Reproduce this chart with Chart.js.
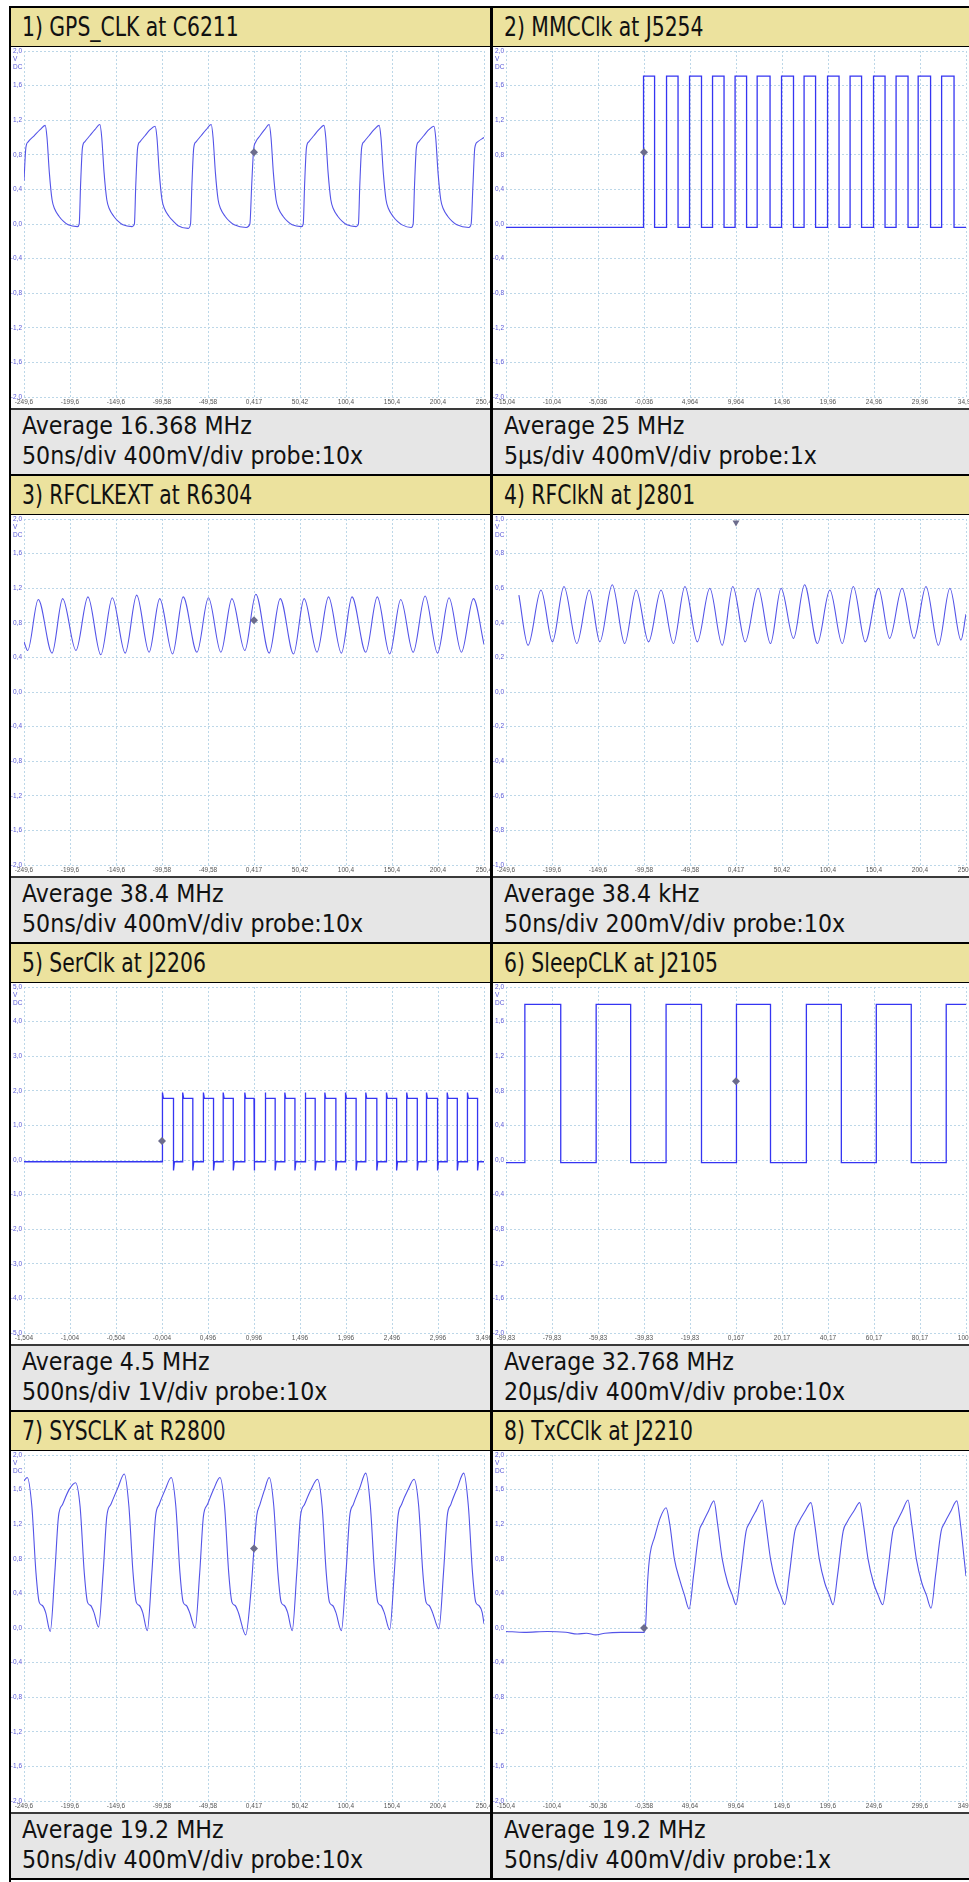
<!DOCTYPE html>
<html>
<head>
<meta charset="utf-8">
<title>Clock measurements</title>
<script src="https://cdn.jsdelivr.net/npm/chart.js@4.4.1/dist/chart.umd.min.js"></script>
<style>
  html, body { margin: 0; padding: 0; background: #fff; overflow: hidden; }
  body { width: 969px; height: 1882px; position: relative; font-family: "Liberation Sans Narrow", "DejaVu Sans Condensed", sans-serif; }
  #frame { position: absolute; left: 9px; top: 6px; width: 980px; height: 1874px; border-top: 2px solid #000; border-left: 2px solid #000; }
  .panel { position: absolute; width: 479px; height: 468px; }
  .panel.left { border-right: 3px solid #000; }
  .title { height: 38px; line-height: 38px; background: #ece29e; border-bottom: 1px solid #000; font-size: 26px; padding-left: 11px; color: #111; white-space: nowrap; }
  .title span { display: inline-block; transform: scaleX(0.87); transform-origin: left center; }
  .plot { height: 361px; }
  .plot canvas { display: block; }
  .foot { height: 63px; padding-top: 1px; background: #e6e6e6; border-top: 2px solid #3a3a3a; border-bottom: 2px solid #000; font-size: 25px; line-height: 30px; padding-left: 11px; color: #111; white-space: nowrap; }
  .foot span { display: inline-block; transform: scaleX(0.985); transform-origin: left center; }
</style>
</head>
<body>
<div id="frame"></div>
<script>
// Panel texts
const titles = ['1) GPS_CLK at C6211', '2) MMCClk at J5254', '3) RFCLKEXT at R6304', '4) RFClkN at J2801',
                '5) SerClk at J2206', '6) SleepCLK at J2105', '7) SYSCLK at R2800', '8) TxCClk at J2210'];
const averages = ['Average 16.368 MHz', 'Average 25 MHz', 'Average 38.4 MHz', 'Average 38.4 kHz',
                  'Average 4.5 MHz', 'Average 32.768 MHz', 'Average 19.2 MHz', 'Average 19.2 MHz'];
const settings = ['50ns/div 400mV/div probe:10x', '5µs/div 400mV/div probe:1x', '50ns/div 400mV/div probe:10x',
                  '50ns/div 200mV/div probe:10x', '500ns/div 1V/div probe:10x', '20µs/div 400mV/div probe:10x',
                  '50ns/div 400mV/div probe:10x', '50ns/div 400mV/div probe:1x'];

// Tick labels (x in divisions 0..10, y bottom to top)
const xLabels50ns = ['-249,6', '-199,6', '-149,6', '-99,58', '-49,58', '0,417', '50,42', '100,4', '150,4', '200,4', '250,4'];
const xLabelsMmc = ['-15,04', '-10,04', '-5,036', '-0,036', '4,964', '9,964', '14,96', '19,96', '24,96', '29,96', '34,96'];
const xLabelsSer = ['-1,504', '-1,004', '-0,504', '-0,004', '0,496', '0,996', '1,496', '1,996', '2,496', '2,996', '3,496'];
const xLabelsSleep = ['-99,83', '-79,83', '-59,83', '-39,83', '-19,83', '0,167', '20,17', '40,17', '60,17', '80,17', '100,2'];
const xLabelsTx = ['-150,4', '-100,4', '-50,36', '-0,358', '49,64', '99,64', '149,6', '199,6', '249,6', '299,6', '349,6'];
const yLabels400 = ['-2,0', '-1,6', '-1,2', '-0,8', '-0,4', '0,0', '0,4', '0,8', '1,2', '1,6', '2,0'];
const yLabels200 = ['-1,0', '-0,8', '-0,6', '-0,4', '-0,2', '0,0', '0,2', '0,4', '0,6', '0,8', '1,0'];
const yLabels1V = ['-5,0', '-4,0', '-3,0', '-2,0', '-1,0', '0,0', '1,0', '2,0', '3,0', '4,0', '5,0'];

// Trigger markers (division, volts)
const trigX = [5, 3, 5, 5, 3, 5, 5, 3];
const trigY = [0.83, 0.83, 0.83, 0.98, 0.55, 0.91, 0.92, 0.0];

// 1) GPS_CLK
const gpsT = [0.0, 0.04, 0.09, 0.22, 0.35, 0.46,
  0.5, 0.55, 0.61, 0.67, 0.76, 0.86, 0.96, 1.16,
  1.2, 1.23, 1.27, 1.32, 1.43, 1.54, 1.65,
  1.69, 1.74, 1.8, 1.86, 1.95, 2.05, 2.15, 2.35,
  2.4, 2.43, 2.47, 2.52, 2.63, 2.74, 2.85,
  2.89, 2.94, 3.0, 3.06, 3.15, 3.25, 3.35, 3.57,
  3.62, 3.65, 3.69, 3.74, 3.85, 3.96, 4.07,
  4.11, 4.16, 4.22, 4.28, 4.37, 4.47, 4.57, 4.83,
  4.91, 4.95, 4.99, 5.04, 5.13, 5.23, 5.33,
  5.37, 5.42, 5.48, 5.54, 5.63, 5.73, 5.83, 6.03,
  6.07, 6.1, 6.14, 6.19, 6.3, 6.41, 6.52,
  6.56, 6.61, 6.67, 6.73, 6.82, 6.92, 7.02, 7.22,
  7.27, 7.3, 7.34, 7.39, 7.5, 7.61, 7.72,
  7.76, 7.81, 7.87, 7.93, 8.02, 8.12, 8.22, 8.42,
  8.46, 8.49, 8.53, 8.58, 8.69, 8.8, 8.91,
  8.95, 9.0, 9.06, 9.12, 9.21, 9.31, 9.41, 9.67,
  9.72, 9.76, 9.8, 9.86, 10.0];
const gpsV = [0.5, 0.88, 0.95, 1.02, 1.09, 1.14,
  1.0, 0.6, 0.28, 0.17, 0.09, 0.03, -0.01, -0.03,
  0.0, 0.45, 0.88, 0.95, 1.02, 1.09, 1.15,
  1.0, 0.6, 0.28, 0.17, 0.09, 0.03, -0.01, -0.03,
  0.0, 0.45, 0.88, 0.95, 1.02, 1.09, 1.13,
  1.0, 0.6, 0.28, 0.17, 0.09, 0.03, -0.02, -0.05,
  0.0, 0.45, 0.88, 0.95, 1.02, 1.09, 1.15,
  1.0, 0.6, 0.28, 0.17, 0.09, 0.03, -0.01, -0.04,
  0.0, 0.45, 0.85, 0.95, 1.02, 1.09, 1.15,
  1.0, 0.6, 0.28, 0.17, 0.09, 0.03, -0.01, -0.03,
  0.0, 0.45, 0.88, 0.95, 1.02, 1.09, 1.14,
  1.0, 0.6, 0.28, 0.17, 0.09, 0.03, -0.01, -0.03,
  0.0, 0.45, 0.88, 0.95, 1.02, 1.09, 1.14,
  1.0, 0.6, 0.28, 0.17, 0.09, 0.03, -0.01, -0.04,
  0.0, 0.45, 0.88, 0.95, 1.02, 1.09, 1.13,
  1.0, 0.6, 0.28, 0.17, 0.09, 0.03, -0.01, -0.04,
  0.0, 0.45, 0.88, 0.95, 1.0];

// 2) MMCClk - edge times and levels
const mmcRise = [2.99, 3.49, 3.99, 4.49, 4.98, 5.46, 5.99, 6.48, 6.99, 7.48, 7.99, 8.48, 8.96, 9.47];
const mmcFall = [3.23, 3.74, 4.25, 4.74, 5.23, 5.74, 6.25, 6.73, 7.24, 7.73, 8.24, 8.74, 9.23, 9.74];
const mmcLevels = [-0.04, 1.71];

// 3) RFCLKEXT - turning points
const rfextT = [0.0, 0.08, 0.31, 0.61, 0.84, 1.13, 1.39, 1.67, 1.92, 2.2, 2.45, 2.72, 2.95, 3.23, 3.46, 3.76,
  4.01, 4.28, 4.52, 4.8, 5.04, 5.33, 5.57, 5.86, 6.09, 6.37, 6.62, 6.9, 7.13, 7.43, 7.68, 7.95,
  8.19, 8.46, 8.72, 8.99, 9.24, 9.51, 9.77, 10.0];
const rfextV = [0.58, 0.48, 1.07, 0.45, 1.08, 0.48, 1.1, 0.43, 1.09, 0.45, 1.12, 0.46, 1.08, 0.44, 1.1, 0.46,
  1.09, 0.46, 1.08, 0.48, 1.13, 0.45, 1.08, 0.44, 1.08, 0.46, 1.1, 0.45, 1.1, 0.46, 1.1, 0.44,
  1.07, 0.46, 1.11, 0.45, 1.09, 0.46, 1.08, 0.55];

// 4) RFClkN - turning points
const rfnT = [0.28, 0.48, 0.76, 1.01, 1.26, 1.54, 1.81, 2.04, 2.31, 2.58, 2.83, 3.1, 3.37, 3.64, 3.89, 4.16,
  4.43, 4.7, 4.93, 5.2, 5.48, 5.75, 5.98, 6.25, 6.49, 6.77, 7.04, 7.31, 7.55, 7.81, 8.1, 8.34,
  8.61, 8.87, 9.13, 9.4, 9.65, 9.89, 10.0];
const rfnV = [0.56, 0.27, 0.59, 0.29, 0.61, 0.28, 0.59, 0.29, 0.62, 0.28, 0.59, 0.29, 0.59, 0.28, 0.61, 0.29,
  0.6, 0.27, 0.61, 0.29, 0.6, 0.28, 0.6, 0.31, 0.62, 0.28, 0.59, 0.28, 0.61, 0.29, 0.6, 0.31,
  0.6, 0.31, 0.61, 0.27, 0.6, 0.3, 0.45];

// 5) SerClk - edges, levels [low, high], ringing [undershoot, overshoot]
const serRise = [3.01, 3.45, 3.9, 4.33, 4.8, 5.24, 5.67, 6.11, 6.54, 6.99, 7.43, 7.88, 8.32, 8.75, 9.2, 9.64];
const serFall = [3.25, 3.67, 4.12, 4.55, 5.0, 5.46, 5.89, 6.33, 6.78, 7.22, 7.67, 8.1, 8.55, 8.99, 9.42, 9.86];
const serLevels = [-0.05, 1.78];
const serRinging = [-0.3, 1.95];

// 6) SleepCLK
const sleepRise = [0.41, 1.96, 3.48, 5.01, 6.53, 8.05, 9.57];
const sleepFall = [1.19, 2.71, 4.25, 5.75, 7.29, 8.81];
const sleepLevels = [-0.03, 1.8];

// 7) SYSCLK
const sysT = [0.0, 0.07,
  0.17, 0.26, 0.33, 0.4, 0.47, 0.57,
  0.67, 0.75, 0.84, 0.98, 1.12,
  1.22, 1.31, 1.38, 1.45, 1.52, 1.62,
  1.72, 1.8, 1.89, 2.04, 2.18,
  2.28, 2.37, 2.44, 2.51, 2.58, 2.68,
  2.78, 2.86, 2.94, 3.07, 3.2,
  3.3, 3.39, 3.46, 3.53, 3.6, 3.72,
  3.82, 3.9, 3.99, 4.12, 4.26,
  4.36, 4.45, 4.52, 4.59, 4.66, 4.82,
  4.93, 5.0, 5.06, 5.13, 5.23, 5.33,
  5.43, 5.52, 5.59, 5.66, 5.73, 5.83,
  5.93, 6.01, 6.1, 6.24, 6.38,
  6.48, 6.57, 6.64, 6.71, 6.78, 6.9,
  7.0, 7.08, 7.16, 7.3, 7.43,
  7.53, 7.62, 7.69, 7.76, 7.83, 7.95,
  8.05, 8.13, 8.21, 8.35, 8.48,
  8.58, 8.67, 8.74, 8.81, 8.88, 9.02,
  9.12, 9.2, 9.28, 9.42, 9.56,
  9.66, 9.75, 9.82, 9.89, 9.96, 10.0];
const sysV = [1.7, 1.74,
  1.41, 0.64, 0.3, 0.26, 0.18, -0.04,
  0.64, 1.29, 1.43, 1.6, 1.68,
  1.4, 0.64, 0.3, 0.26, 0.18, 0.01,
  0.64, 1.29, 1.43, 1.62, 1.78,
  1.41, 0.64, 0.3, 0.26, 0.18, -0.03,
  0.64, 1.29, 1.43, 1.6, 1.74,
  1.41, 0.64, 0.3, 0.26, 0.18, 0.0,
  0.64, 1.29, 1.43, 1.6, 1.74,
  1.41, 0.64, 0.3, 0.26, 0.18, -0.08,
  0.4, 0.92, 1.3, 1.43, 1.6, 1.74,
  1.41, 0.64, 0.3, 0.26, 0.18, -0.03,
  0.64, 1.29, 1.43, 1.6, 1.72,
  1.41, 0.64, 0.3, 0.26, 0.18, -0.03,
  0.64, 1.29, 1.43, 1.62, 1.79,
  1.41, 0.64, 0.3, 0.26, 0.18, -0.02,
  0.64, 1.29, 1.43, 1.6, 1.72,
  1.41, 0.64, 0.3, 0.26, 0.18, -0.01,
  0.64, 1.29, 1.43, 1.62, 1.79,
  1.41, 0.64, 0.3, 0.26, 0.18, 0.05];

// 8) TxCClk
const txT = [0.0, 0.4, 0.9, 1.3, 1.55, 1.75, 1.95, 2.15, 2.5, 3.0,
  3.03, 3.08, 3.13, 3.23, 3.35, 3.48,
  3.56, 3.66, 3.78, 3.88, 3.98,
  4.08, 4.2, 4.28, 4.4, 4.52,
  4.6, 4.7, 4.82, 4.92, 5.0,
  5.1, 5.22, 5.3, 5.44, 5.57,
  5.65, 5.75, 5.87, 5.97, 6.06,
  6.16, 6.28, 6.36, 6.5, 6.63,
  6.71, 6.81, 6.93, 7.03, 7.11,
  7.21, 7.33, 7.41, 7.56, 7.69,
  7.77, 7.87, 7.99, 8.09, 8.19,
  8.29, 8.41, 8.49, 8.62, 8.74,
  8.82, 8.92, 9.04, 9.14, 9.24,
  9.34, 9.46, 9.54, 9.67, 9.8,
  9.88, 9.95, 10.0];
const txV = [-0.04, -0.05, -0.04, -0.05, -0.07, -0.06, -0.08, -0.06, -0.05, -0.05,
  0.0, 0.55, 0.85, 1.05, 1.27, 1.39,
  1.2, 0.8, 0.55, 0.38, 0.22,
  0.62, 1.12, 1.22, 1.35, 1.47,
  1.2, 0.8, 0.52, 0.38, 0.27,
  0.62, 1.12, 1.22, 1.36, 1.48,
  1.2, 0.8, 0.52, 0.38, 0.27,
  0.62, 1.12, 1.22, 1.35, 1.45,
  1.2, 0.8, 0.52, 0.38, 0.27,
  0.62, 1.12, 1.22, 1.35, 1.45,
  1.2, 0.8, 0.52, 0.38, 0.27,
  0.62, 1.12, 1.22, 1.36, 1.48,
  1.2, 0.8, 0.52, 0.38, 0.23,
  0.62, 1.12, 1.22, 1.35, 1.47,
  1.2, 0.85, 0.6];

// Helpers to turn the arrays into {x, y} points
function zip(t, v) {
  return t.map((x, i) => ({ x: x, y: v[i] }));
}

function squareWave(rise, fall, levels) {
  const [low, high] = levels;
  const pts = [{ x: 0, y: low }];
  rise.forEach((r, i) => {
    pts.push({ x: r, y: low }, { x: r, y: high });
    if (fall[i] !== undefined) pts.push({ x: fall[i], y: high }, { x: fall[i], y: low });
  });
  pts.push({ x: 10, y: rise.length > fall.length ? high : low });
  return pts;
}

function ringingWave(rise, fall, levels, ringing) {
  const [low, high] = levels;
  const [under, over] = ringing;
  const pts = [{ x: 0, y: low }];
  rise.forEach((r, i) => {
    pts.push({ x: r, y: low }, { x: r, y: over }, { x: r + 0.02, y: high });
    pts.push({ x: fall[i], y: high }, { x: fall[i], y: under }, { x: fall[i] + 0.02, y: low });
  });
  pts.push({ x: 10, y: low });
  return pts;
}

const panels = [
  { points: zip(gpsT, gpsV), smooth: true, y: [-2, 2], yLabels: yLabels400, xLabels: xLabels50ns },
  { points: squareWave(mmcRise, mmcFall, mmcLevels), smooth: false, y: [-2, 2], yLabels: yLabels400, xLabels: xLabelsMmc },
  { points: zip(rfextT, rfextV), smooth: true, y: [-2, 2], yLabels: yLabels400, xLabels: xLabels50ns },
  { points: zip(rfnT, rfnV), smooth: true, y: [-1, 1], yLabels: yLabels200, xLabels: xLabels50ns },
  { points: ringingWave(serRise, serFall, serLevels, serRinging), smooth: false, y: [-5, 5], yLabels: yLabels1V, xLabels: xLabelsSer },
  { points: squareWave(sleepRise, sleepFall, sleepLevels), smooth: false, y: [-2, 2], yLabels: yLabels400, xLabels: xLabelsSleep },
  { points: zip(sysT, sysV), smooth: true, y: [-2, 2], yLabels: yLabels400, xLabels: xLabels50ns },
  { points: zip(txT, txV), smooth: true, y: [-2, 2], yLabels: yLabels400, xLabels: xLabelsTx }
];

// "V" / "DC" under the top y label
const unitLabel = {
  id: 'unitLabel',
  afterDraw(chart) {
    const { ctx, chartArea } = chart;
    ctx.save();
    ctx.fillStyle = '#5b5bd8';
    ctx.font = '6.5px "Liberation Sans"';
    ctx.textAlign = 'left';
    ctx.textBaseline = 'middle';
    ctx.fillText('V', chartArea.left - 11, chartArea.top + 8);
    ctx.fillText('DC', chartArea.left - 11, chartArea.top + 16);
    ctx.restore();
  }
};

const gridColor = '#bcd7e8';
const tickFont = { size: 6.5, family: 'Liberation Sans' };
const frame = document.getElementById('frame');

panels.forEach((p, i) => {
  const col = i % 2;
  const row = Math.floor(i / 2);
  const el = document.createElement('div');
  el.className = 'panel' + (col === 0 ? ' left' : '');
  el.style.left = (col * 482) + 'px';
  el.style.top = (row * 468) + 'px';
  el.innerHTML = `<div class="title"><span>${titles[i]}</span></div>
    <div class="plot"><canvas width="479" height="361"></canvas></div>
    <div class="foot"><span>${averages[i]}</span><br><span>${settings[i]}</span></div>`;
  frame.appendChild(el);

  const canvas = el.querySelector('canvas');
  new Chart(canvas, {
    type: 'line',
    data: {
      datasets: [
        {
          data: p.points,
          borderColor: p.smooth ? '#5454e8' : '#3535f2',
          borderWidth: p.smooth ? 1.1 : 1.3,
          pointRadius: 0,
          fill: false,
          tension: 0,
          cubicInterpolationMode: p.smooth ? 'monotone' : 'default',
          order: 2
        },
        {
          type: 'scatter',
          data: [{ x: trigX[i], y: trigY[i] }],
          pointStyle: i === 3 ? 'triangle' : 'rectRot',
          rotation: i === 3 ? 180 : 0,
          pointRadius: 4,
          backgroundColor: '#6c6c8c',
          borderWidth: 0,
          order: 1
        }
      ]
    },
    options: {
      responsive: false,
      animation: false,
      events: [],
      layout: { padding: { top: 2, right: 6, bottom: 0, left: 0 } },
      plugins: {
        legend: { display: false },
        tooltip: { enabled: false }
      },
      scales: {
        x: {
          type: 'linear',
          min: 0,
          max: 10,
          afterFit: s => { s.height = 11; s.paddingLeft = 0; s.paddingRight = 0; },
          ticks: {
            stepSize: 1,
            autoSkip: false,
            maxRotation: 0,
            padding: 1,
            color: '#555',
            font: tickFont,
            callback: v => p.xLabels[Math.round(v)]
          },
          grid: { color: gridColor, drawTicks: false },
          border: { display: false, dash: [2, 2] }
        },
        y: {
          type: 'linear',
          min: p.y[0],
          max: p.y[1],
          afterFit: s => { s.width = 13; s.paddingTop = 0; s.paddingBottom = 0; },
          ticks: {
            count: 11,
            autoSkip: false,
            padding: 2,
            color: '#5b5bd8',
            font: tickFont,
            callback: (v, idx) => p.yLabels[idx]
          },
          grid: { color: gridColor, drawTicks: false },
          border: { display: false, dash: [2, 2] }
        }
      }
    },
    plugins: [unitLabel]
  });
});
</script>
</body>
</html>
